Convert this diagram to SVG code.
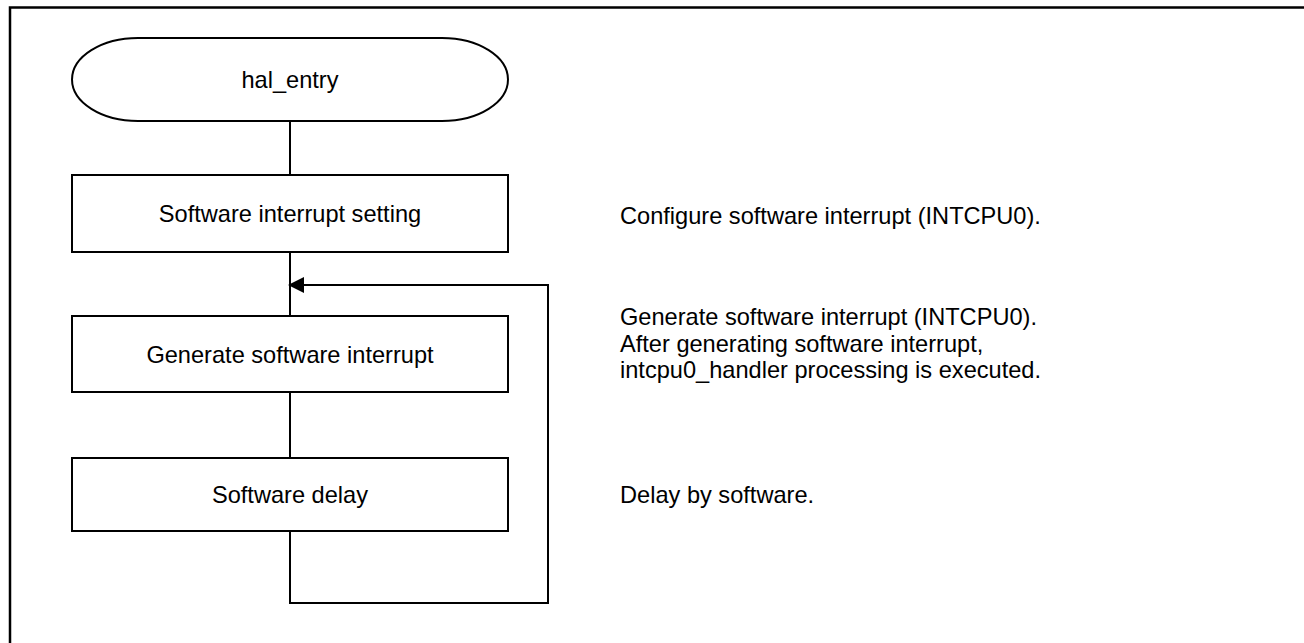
<svg xmlns="http://www.w3.org/2000/svg" width="1304" height="643" viewBox="0 0 1304 643">
<defs>
<style>
.shape{fill:#fff;stroke:#000;stroke-width:2}
.conn{fill:none;stroke:#000;stroke-width:2}
.lbl{font-family:"Liberation Sans",Arial,sans-serif;font-size:23.6px;fill:#000;text-anchor:middle}
.note{font-family:"Liberation Sans",Arial,sans-serif;font-size:23.6px;fill:#000}
</style>
<marker id="arr" viewBox="0 0 16 16" refX="15" refY="8" markerWidth="16" markerHeight="16" markerUnits="userSpaceOnUse" orient="auto">
<path d="M0,0 L16,8 L0,16 Z" fill="#000"/>
</marker>
</defs>
<rect width="1304" height="643" fill="#fff"/>
<path d="M10,643 V7.5 H1304" fill="none" stroke="#000" stroke-width="2.5"/>
<g id="connectors">
<line class="conn" x1="290" y1="121" x2="290" y2="175"/>
<line class="conn" x1="290" y1="252" x2="290" y2="316"/>
<line class="conn" x1="290" y1="392" x2="290" y2="458"/>
<path class="conn" d="M290,531 V603 H548 V285 H289" marker-end="url(#arr)"/>
</g>
<g id="start">
<path class="shape" d="M138,38 H442 A66,41.5 0 0 1 442,121 H138 A66,41.5 0 0 1 138,38 Z"/>
<text class="lbl" x="290" y="88">hal_entry</text>
</g>
<g id="setting">
<rect class="shape" x="72" y="175" width="436" height="77"/>
<text class="lbl" x="290" y="222">Software interrupt setting</text>
</g>
<g id="generate">
<rect class="shape" x="72" y="316" width="436" height="76"/>
<text class="lbl" x="290" y="363">Generate software interrupt</text>
</g>
<g id="delay">
<rect class="shape" x="72" y="458" width="436" height="73"/>
<text class="lbl" x="290" y="503">Software delay</text>
</g>
<g id="notes">
<text class="note" x="620" y="224">Configure software interrupt (INTCPU0).</text>
<text class="note" x="620" y="325">Generate software interrupt (INTCPU0).</text>
<text class="note" x="620" y="352">After generating software interrupt,</text>
<text class="note" x="620" y="378">intcpu0_handler processing is executed.</text>
<text class="note" x="620" y="503">Delay by software.</text>
</g>
</svg>
